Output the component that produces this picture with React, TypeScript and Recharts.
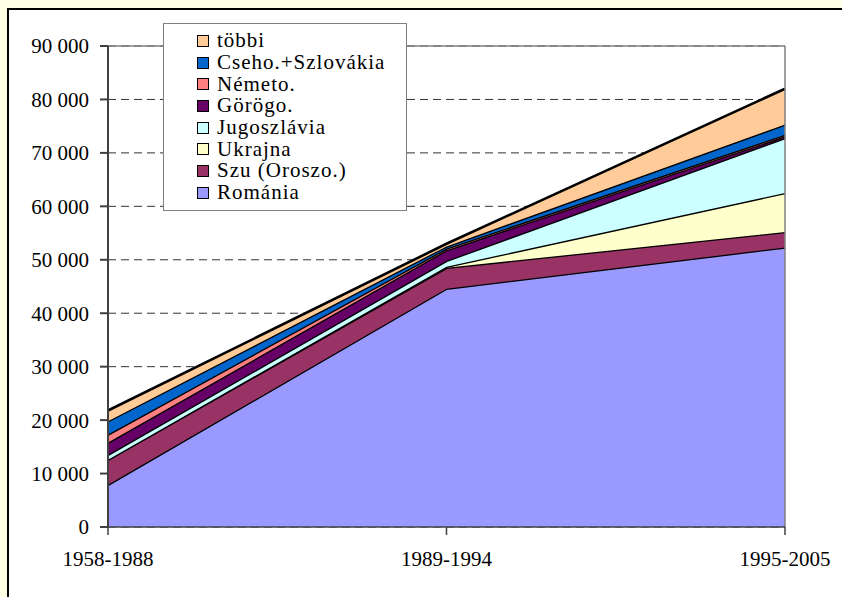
import { Area, AreaChart, CartesianGrid, ReferenceLine, XAxis, YAxis } from "recharts";

const categories = ["1958-1988", "1989-1994", "1995-2005"];

const romania = [7900, 44600, 52300];
const szu = [4700, 3900, 2900];
const ukrajna = [0, 200, 7300];
const jugoszlavia = [900, 1100, 10300];
const gorogo = [2300, 2000, 300];
const nemeto = [1500, 300, 300];
const cseho = [2500, 400, 1900];
const tobbi = [2000, 500, 6700];

const yTicks = [0, 10000, 20000, 30000, 40000, 50000, 60000, 70000, 80000, 90000];

// stacking order, bottom first
const series = [
  { key: "romania", name: "Románia", values: romania, color: "#9999FF" },
  { key: "szu", name: "Szu (Oroszo.)", values: szu, color: "#993366" },
  { key: "ukrajna", name: "Ukrajna", values: ukrajna, color: "#FFFFCC" },
  { key: "jugoszlavia", name: "Jugoszlávia", values: jugoszlavia, color: "#CCFFFF" },
  { key: "gorogo", name: "Görögo.", values: gorogo, color: "#660066" },
  { key: "nemeto", name: "Németo.", values: nemeto, color: "#FF8080" },
  { key: "cseho", name: "Cseho.+Szlovákia", values: cseho, color: "#0066CC" },
  { key: "tobbi", name: "többi", values: tobbi, color: "#FFCC99" },
];

const data = categories.map((c, i) => {
  const row: Record<string, string | number> = { period: c };
  series.forEach((s) => (row[s.key] = s.values[i]));
  return row;
});

const font = "Liberation Serif, serif";

const fmt = (v: number) => String(v).replace(/\B(?=(\d{3})+(?!\d))/g, " ");

/**
 * Legend box, top series first
 */
const LegendBox = () => (
  <div
    style={{
      position: "absolute",
      left: 163,
      top: 23,
      width: 244,
      height: 188,
      background: "#fff",
      border: "1px solid #808080",
      boxSizing: "border-box",
      padding: "6px 0 0 33px",
      fontFamily: font,
      fontSize: 21,
      letterSpacing: 1,
      color: "#000",
    }}
  >
    {[...series].reverse().map((s) => (
      <div key={s.key} style={{ display: "flex", alignItems: "center", height: 21.7, lineHeight: "21px" }}>
        <span
          style={{
            width: 10,
            height: 10,
            background: s.color,
            border: "1.5px solid #000",
            marginRight: 8,
            flexShrink: 0,
          }}
        />
        <span>{s.name}</span>
      </div>
    ))}
  </div>
);

const App = () => {
  return (
    <div style={{ position: "fixed", left: 0, top: 0, width: 842, height: 597, background: "#FFFFE6", overflow: "hidden" }}>
      <div
        style={{
          position: "absolute",
          left: 7,
          top: 8,
          width: 850,
          height: 600,
          background: "#fff",
          borderLeft: "2px solid #000",
          borderTop: "2px solid #000",
        }}
      />
      <div style={{ position: "absolute", left: 0, top: 0 }}>
        <AreaChart width={842} height={597} data={data} margin={{ top: 46, right: 57, left: 8, bottom: 30 }}>
          <CartesianGrid vertical={false} stroke="#333" strokeDasharray="8 5" />
          <XAxis
            dataKey="period"
            height={40}
            tickSize={8}
            tickMargin={16}
            stroke="#404040"
            strokeWidth={1.5}
            tick={{ fill: "#000", fontFamily: font, fontSize: 21 }}
          />
          <YAxis
            width={100}
            domain={[0, 90000]}
            ticks={yTicks}
            tickFormatter={fmt}
            tickSize={8}
            tickMargin={11}
            stroke="#404040"
            strokeWidth={2}
            interval={0}
            tick={{ fill: "#000", fontFamily: font, fontSize: 21 }}
          />
          {series.map((s) => (
            <Area
              key={s.key}
              type="linear"
              dataKey={s.key}
              name={s.name}
              stackId="1"
              stroke="#000"
              strokeWidth={2.6}
              fill={s.color}
              fillOpacity={1}
              isAnimationActive={false}
            />
          ))}
          <ReferenceLine y={90000} stroke="#808080" strokeWidth={1.5} />
          <ReferenceLine x="1995-2005" stroke="#808080" strokeWidth={1.5} />
        </AreaChart>
      </div>
      <LegendBox />
    </div>
  );
};

export default App;
